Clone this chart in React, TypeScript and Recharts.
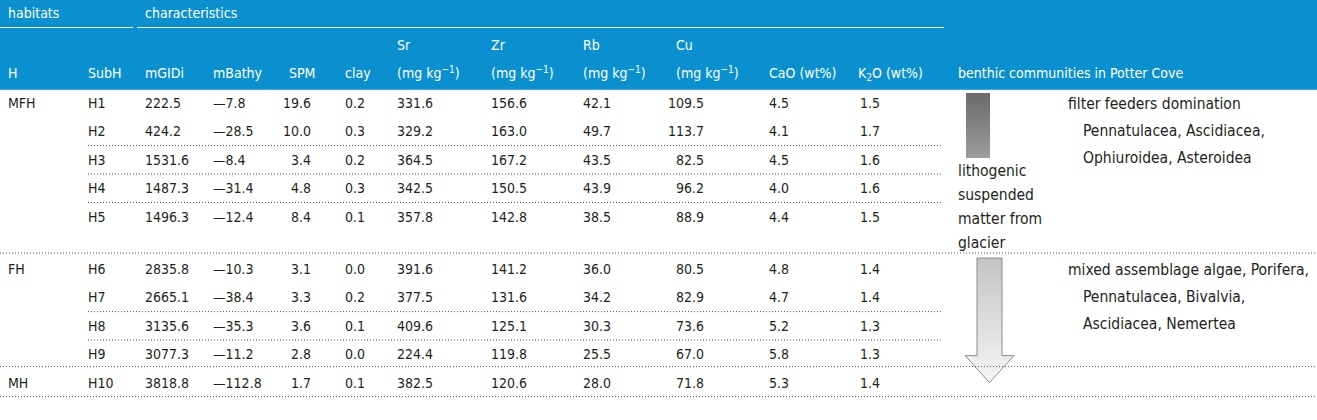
import {
  Customized,
  ReferenceLine,
  Scatter,
  ScatterChart,
  XAxis,
  YAxis,
} from "recharts";

const W = 1317;
const H = 420;
const FONT = '"Liberation Sans Narrow", "Arial Narrow", "DejaVu Sans Condensed", sans-serif';
const FS = 14;
const FS_NOTE = 15.5;
const BLUE = "#0b90cf";
const INK = "#231f20";

// --- table content ---
const habitats = ["MFH", "FH", "MH"];
const habitatSize = [5, 4, 1];
const subHabitats = ["H1", "H2", "H3", "H4", "H5", "H6", "H7", "H8", "H9", "H10"];
const mGIDi = [222.5, 424.2, 1531.6, 1487.3, 1496.3, 2835.8, 2665.1, 3135.6, 3077.3, 3818.8];
const mBathy = [-7.8, -28.5, -8.4, -31.4, -12.4, -10.3, -38.4, -35.3, -11.2, -112.8];
const spm = [19.6, 10.0, 3.4, 4.8, 8.4, 3.1, 3.3, 3.6, 2.8, 1.7];
const clay = [0.2, 0.3, 0.2, 0.3, 0.1, 0.0, 0.2, 0.1, 0.0, 0.1];
const sr = [331.6, 329.2, 364.5, 342.5, 357.8, 391.6, 377.5, 409.6, 224.4, 382.5];
const zr = [156.6, 163.0, 167.2, 150.5, 142.8, 141.2, 131.6, 125.1, 119.8, 120.6];
const rb = [42.1, 49.7, 43.5, 43.9, 38.5, 36.0, 34.2, 30.3, 25.5, 28.0];
const cu = [109.5, 113.7, 82.5, 96.2, 88.9, 80.5, 82.9, 73.6, 67.0, 71.8];
const caO = [4.5, 4.1, 4.5, 4.0, 4.4, 4.8, 4.7, 5.2, 5.8, 5.3];
const k2O = [1.5, 1.7, 1.6, 1.6, 1.5, 1.4, 1.4, 1.3, 1.3, 1.4];

// rows followed by a short dotted rule (inside a habitat)
const ruleAfter = [1, 2, 3, 6, 7];

const communities = [
  ["filter feeders domination", "Pennatulacea, Ascidiacea,", "Ophiuroidea, Asteroidea"],
  ["mixed assemblage algae, Porifera,", "Pennatulacea, Bivalvia,", "Ascidiacea, Nemertea"],
];
const sourceNote = ["lithogenic", "suspended", "matter from", "glacier"];

// --- layout ---
const ROW0 = 103;
const PITCH = 28.4;
const GROUP_GAP = 24;
const HEADER_H = 90;

const groupOf = subHabitats.map((_, i) => {
  let acc = 0;
  for (let g = 0; g < habitatSize.length; g++) {
    acc += habitatSize[g];
    if (i < acc) return g;
  }
  return habitatSize.length - 1;
});
const rowY = (i: number) => ROW0 + i * PITCH + (groupOf[i] > 0 ? GROUP_GAP : 0);
const groupStart = habitatSize.map((_, g) => habitatSize.slice(0, g).reduce((a, b) => a + b, 0));

const fmt = (v: number) => (v < 0 ? "\u2014" + Math.abs(v).toFixed(1) : v.toFixed(1));

type Col = { x: number; anchor: "start" | "end"; values: string[] };
const COLS: Col[] = [
  { x: 88, anchor: "start", values: subHabitats },
  { x: 145, anchor: "start", values: mGIDi.map(fmt) },
  { x: 213, anchor: "start", values: mBathy.map(fmt) },
  { x: 311, anchor: "end", values: spm.map(fmt) },
  { x: 345, anchor: "start", values: clay.map(fmt) },
  { x: 397, anchor: "start", values: sr.map(fmt) },
  { x: 491, anchor: "start", values: zr.map(fmt) },
  { x: 583, anchor: "start", values: rb.map(fmt) },
  { x: 704, anchor: "end", values: cu.map(fmt) },
  { x: 769, anchor: "start", values: caO.map(fmt) },
  { x: 860, anchor: "start", values: k2O.map(fmt) },
];

const cellShape = (anchor: "start" | "end") => (p: any) => (
  <text
    x={p.cx}
    y={p.cy}
    dy="0.36em"
    textAnchor={anchor}
    fontFamily={FONT}
    fontSize={FS}
    fill={INK}
  >
    {p.payload.label}
  </text>
);

const Unit = ({ x }: { x: number }) => (
  <text x={x} y={73} dy="0.36em" fill="#fff" fontFamily={FONT} fontSize={FS}>
    <tspan>(mg kg</tspan>
    <tspan dy={-5} fontSize={10}>−1</tspan>
    <tspan dy={5}>)</tspan>
  </text>
);

function Decor() {
  const hdr = (x: number, y: number, s: string) => (
    <text x={x} y={y} dy="0.36em" fill="#fff" fontFamily={FONT} fontSize={FS}>
      {s}
    </text>
  );
  const body = (x: number, y: number, s: string, key: string) => (
    <text key={key} x={x} y={y} dy="0.36em" fill={INK} fontFamily={FONT} fontSize={FS_NOTE}>
      {s}
    </text>
  );
  const arrowTop = rowY(groupStart[1]) - 11;
  const tipY = rowY(groupStart[2]);
  return (
    <g>
      <defs>
        <linearGradient id="darkBar" x1="0" y1="0" x2="0" y2="1">
          <stop offset="0%" stopColor="#6b6b6b" />
          <stop offset="100%" stopColor="#9c9c9c" />
        </linearGradient>
        <linearGradient id="lightArrow" x1="0" y1="0" x2="0" y2="1">
          <stop offset="0%" stopColor="#c4c4c4" />
          <stop offset="100%" stopColor="#f5f5f5" />
        </linearGradient>
      </defs>
      <rect x={0} y={0} width={W} height={HEADER_H} fill={BLUE} />
      <line x1={0} x2={W} y1={HEADER_H - 0.5} y2={HEADER_H - 0.5} stroke="#3aa8de" />
      <line x1={0} x2={133} y1={27.5} y2={27.5} stroke="#fff" />
      <line x1={137} x2={944} y1={27.5} y2={27.5} stroke="#fff" />
      {hdr(8, 13, "habitats")}
      {hdr(145, 13, "characteristics")}
      {hdr(397, 45, "Sr")}
      {hdr(491, 45, "Zr")}
      {hdr(583, 45, "Rb")}
      {hdr(676, 45, "Cu")}
      {hdr(8, 73, "H")}
      {hdr(88, 73, "SubH")}
      {hdr(145, 73, "mGIDi")}
      {hdr(213, 73, "mBathy")}
      {hdr(289, 73, "SPM")}
      {hdr(345, 73, "clay")}
      <Unit x={397} />
      <Unit x={491} />
      <Unit x={583} />
      <Unit x={676} />
      {hdr(769, 73, "CaO (wt%)")}
      <text x={858} y={73} dy="0.36em" fill="#fff" fontFamily={FONT} fontSize={FS}>
        <tspan>K</tspan>
        <tspan dy={3} fontSize={10}>2</tspan>
        <tspan dy={-3}>O (wt%)</tspan>
      </text>
      {hdr(958, 73, "benthic communities in Potter Cove")}

      <rect x={966} y={93} width={24} height={65} fill="url(#darkBar)" />
      {sourceNote.map((s, i) => body(958, 170 + i * 24, s, "n" + i))}
      <polygon
        points={`977,${arrowTop} 1002,${arrowTop} 1002,${tipY - 27} 1014,${tipY - 27} 989.5,${tipY} 965,${tipY - 27} 977,${tipY - 27}`}
        fill="url(#lightArrow)"
        stroke="#8c8c8c"
        strokeWidth={1}
      />
      {communities.map((lines, g) =>
        lines.map((s, j) =>
          body(j === 0 ? 1068 : 1083, rowY(groupStart[g]) + j * 27, s, `c${g}-${j}`)
        )
      )}
    </g>
  );
}

export default function App() {
  const habitatPts = habitats.map((h, g) => ({ x: 8, y: rowY(groupStart[g]), label: h }));
  return (
    <div style={{ position: "absolute", left: 0, top: 0, background: "#fff" }}>
      <ScatterChart width={W} height={H} margin={{ top: 0, right: 0, bottom: 0, left: 0 }}>
        <XAxis type="number" dataKey="x" domain={[0, W]} hide allowDataOverflow />
        <YAxis type="number" dataKey="y" domain={[0, H]} reversed hide allowDataOverflow />
        <Customized component={Decor} />
        {ruleAfter.map((i) => {
          const y = (rowY(i) + rowY(i + 1)) / 2;
          return (
            <ReferenceLine
              key={"r" + i}
              segment={[{ x: 88, y }, { x: 942, y }]}
              stroke="#555"
              strokeDasharray="1 2"
            />
          );
        })}
        {groupStart.slice(1).map((s) => (
          <ReferenceLine key={"g" + s} y={rowY(s) - 16} stroke="#555" strokeDasharray="1 2" />
        ))}
        <ReferenceLine y={rowY(subHabitats.length - 1) + 14} stroke="#555" strokeDasharray="1 2" />
        <Scatter
          data={habitatPts}
          shape={cellShape("start")}
          isAnimationActive={false}
        />
        {COLS.map((c, ci) => (
          <Scatter
            key={ci}
            data={c.values.map((label, i) => ({ x: c.x, y: rowY(i), label }))}
            shape={cellShape(c.anchor)}
            isAnimationActive={false}
          />
        ))}
      </ScatterChart>
    </div>
  );
}
